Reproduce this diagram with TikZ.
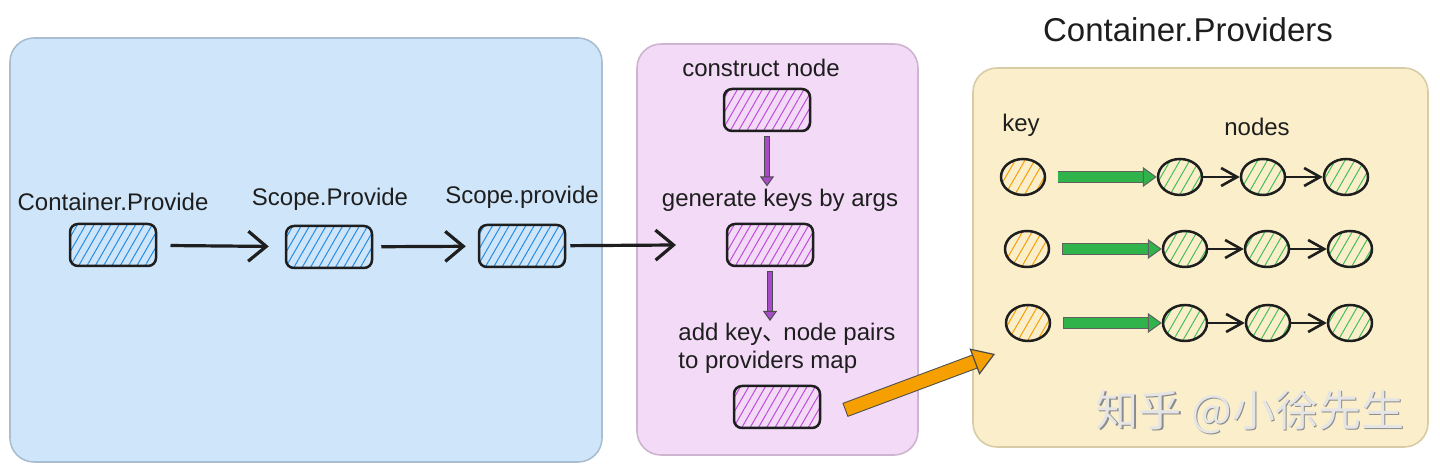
\documentclass[tikz,border=0pt]{standalone}
\usepackage{fontspec}
\setmainfont{Liberation Sans}
\newfontfamily\cjk{Noto Sans CJK SC}
\usetikzlibrary{arrows.meta,patterns.meta,shapes.geometric,calc}
\definecolor{bluebg}{HTML}{CFE6FA}
\definecolor{blueedge}{HTML}{A9BED0}
\definecolor{pinkbg}{HTML}{F3DAF7}
\definecolor{pinkedge}{HTML}{CDB5CF}
\definecolor{yellowbg}{HTML}{FBEFCB}
\definecolor{yellowedge}{HTML}{D8CCA6}
\definecolor{hblue}{HTML}{228BE6}
\definecolor{hpurple}{HTML}{BE4BDB}
\definecolor{horange}{HTML}{F59F00}
\definecolor{hgreen}{HTML}{40C057}
\definecolor{agreen}{HTML}{2FB34A}
\definecolor{apurple}{HTML}{A84BC8}
\definecolor{aorange}{HTML}{F5A000}
\definecolor{ink}{HTML}{1E1E1E}
\begin{document}
\begin{tikzpicture}[x=0.5pt,y=-0.5pt,
  panel/.style={rounded corners=12pt, line width=0.8pt},
  hbox/.style={draw=ink, line width=1.25pt, rounded corners=4pt,
    minimum width=43pt, minimum height=21pt, inner sep=0pt},
  hb/.style={pattern={Lines[angle=60,distance=3.6pt,line width=0.5pt]}, pattern color=hblue},
  hp/.style={pattern={Lines[angle=60,distance=3.6pt,line width=0.5pt]}, pattern color=hpurple},
  circ/.style={ellipse, draw=ink, line width=1.25pt, minimum width=22pt, minimum height=18pt, inner sep=0pt},
  kc/.style={circ, pattern={Lines[angle=60,distance=4.2pt,line width=0.5pt]}, pattern color=horange},
  nc/.style={circ, pattern={Lines[angle=60,distance=4.2pt,line width=0.5pt]}, pattern color=hgreen},
  lbl/.style={font=\fontsize{12}{14}\selectfont, text=ink, inner sep=0pt},
  barrow/.style={draw=ink, line width=1.6pt, -{Straight Barb[length=9pt,width=15pt]}},
  sarrow/.style={draw=ink, line width=1.3pt, -{Straight Barb[length=8pt,width=9pt]}},
  pout/.style={draw=ink!80, line width=3pt, shorten >=4pt},
  parrow/.style={draw=apurple, line width=2pt, -{Triangle[length=5pt,width=7pt,fill=apurple,color=ink!80,line width=0.5pt]}},
  gout/.style={draw=ink!70, line width=5.8pt, shorten >=6pt},
  garrow/.style={draw=agreen, line width=4.6pt, -{Triangle[length=7pt,width=10pt,fill=agreen,color=ink!70,line width=0.5pt]}},
  oout/.style={draw=ink!80, line width=7.4pt, shorten >=10pt},
  oarrow/.style={draw=aorange, line width=6.4pt, -{Triangle[length=11pt,width=14pt,fill=aorange,color=ink!80,line width=0.6pt]}}
]
\useasboundingbox (0,0) rectangle (1440,474);
\fill[white] (0,0) rectangle (1440,474);

% panels
\draw[panel, fill=bluebg, draw=blueedge] (10,38) rectangle (602,462);
\draw[panel, fill=pinkbg, draw=pinkedge] (637,44) rectangle (918,455);
\draw[panel, fill=yellowbg, draw=yellowedge] (973,68) rectangle (1428,447);

% blue panel
\node[lbl] (lc1) at (113,202) {Container.Provide};
\node[lbl] (ls1) at (330,199) {Scope.Provide};
\node[lbl] (ls2) at (522,197) {Scope.provide};
\node[hbox,hb] (c1) at (113,245) {};
\node[hbox,hb] (s1) at (329,247) {};
\node[hbox,hb] (s2) at (522,246) {};
\coordinate (pin) at (676,245);
\draw[barrow, shorten <=7pt, shorten >=8pt] (c1) -- (s1);
\draw[barrow, shorten <=4pt, shorten >=6pt] (s1) -- (s2);
\draw[barrow, shorten <=2pt] (s2) -- (pin);

% pink panel
\node[lbl] (l1) at (761,68) {construct node};
\node[hbox,hp] (b1) at (767,110) {};
\node[lbl] (l2) at (780,200) {generate keys by args};
\node[hbox,hp] (b2) at (770,245) {};
\node[lbl, align=left, anchor=north west] (l3) at (678,323) {add key{\cjk 、}\kern-1.5pt node pairs\\to providers map};
\node[hbox,hp] (b3) at (777,407) {};
\draw[pout, shorten <=2pt] (b1.south) -- (b1.south |- l2.north);
\draw[parrow, shorten <=2.3pt, shorten >=1pt] (b1.south) -- (b1.south |- l2.north);
\draw[pout, shorten <=2pt] (b2.south) -- (b2.south |- l3.north);
\draw[parrow, shorten <=2.3pt, shorten >=1pt] (b2.south) -- (b2.south |- l3.north);

% orange arrow
\coordinate (os) at (845,410);
\coordinate (oe) at (995,354);
\draw[oout] (os) -- (oe);
\draw[oarrow, shorten <=0.5pt] (os) -- (oe);

% yellow panel
\node[font=\fontsize{16.5}{18}\selectfont, text=ink, inner sep=0pt] (title) at (1188,30) {Container.Providers};
\node[lbl] (lk) at (1021,125) {key};
\node[lbl] (ln) at (1257,127) {nodes};

\node[kc] (k1) at (1023,177) {};
\node[nc] (n11) at (1180,177) {};
\node[nc] (n12) at (1263,177) {};
\node[nc] (n13) at (1346,177) {};

\node[kc] (k2) at (1027,249) {};
\node[nc] (n21) at (1185,249) {};
\node[nc] (n22) at (1267,249) {};
\node[nc] (n23) at (1350,249) {};

\node[kc] (k3) at (1028,323) {};
\node[nc] (n31) at (1185,323) {};
\node[nc] (n32) at (1268,323) {};
\node[nc] (n33) at (1350,323) {};

\foreach \r in {1,2,3}{
  \draw[gout, shorten <=6pt] (k\r) -- (n\r1);
  \draw[garrow, shorten <=6.4pt] (k\r) -- (n\r1);
  \draw[sarrow] (n\r1) -- (n\r2);
  \draw[sarrow] (n\r2) -- (n\r3);
}

% watermark
\node[font=\cjk\fontsize{21.5}{22}\selectfont, text=black!45] (wms) at (1251.5,413.5) {知乎 @小徐先生};
\node[font=\cjk\fontsize{21.5}{22}\selectfont, text=white!90!black] (wm) at (1250,412) {知乎 @小徐先生};
\end{tikzpicture}
\end{document}
